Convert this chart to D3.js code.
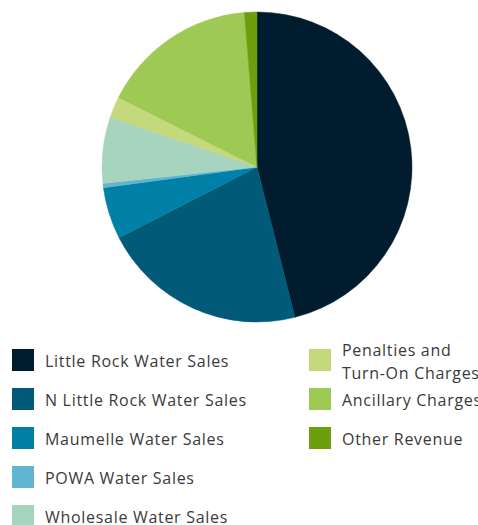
<!DOCTYPE html>
<html>
<head>
<meta charset="utf-8">
<script src="https://cdn.jsdelivr.net/npm/d3@7"></script>
<style>
  body { margin: 0; background: #fff; overflow: hidden; }
  text { font-family: "Open Sans", "Noto Sans", sans-serif; fill: #3a3a3a; letter-spacing: 0.7px; }
</style>
</head>
<body>
<div id="chart"></div>
<script>
// revenue categories and shares (%)
var categories = ["Little Rock Water Sales", "N Little Rock Water Sales", "Maumelle Water Sales",
  "POWA Water Sales", "Wholesale Water Sales", "Penalties and Turn-On Charges",
  "Ancillary Charges", "Other Revenue"];
var values = [46.1, 21.4, 5.4, 0.45, 6.9, 2.2, 16.3, 1.3];
var colors = ["#001c2e", "#005a78", "#0080a6", "#62b5d1", "#a6d4bf", "#c3d97c", "#9ec955", "#6c9e0e"];
// legend labels (split where the original wraps)
var legendLabels = [["Little Rock Water Sales"], ["N Little Rock Water Sales"], ["Maumelle Water Sales"],
  ["POWA Water Sales"], ["Wholesale Water Sales"], ["Penalties and", "Turn-On Charges"],
  ["Ancillary Charges"], ["Other Revenue"]];

var svgWidth = 478;
var svgHeight = 525;

var svg = d3.select("#chart")
  .append("svg")
  .attr("width", svgWidth)
  .attr("height", svgHeight);

var data = categories.map((c, i) => ({ name: c, value: values[i], color: colors[i], label: legendLabels[i] }));

var radius = 155;
var pieGroup = svg.append("g")
  .attr("transform", "translate(257, 167)");

var pie = d3.pie()
  .sort(null)
  .value(d => d.value);

var arc = d3.arc()
  .innerRadius(0)
  .outerRadius(radius);

pieGroup.selectAll("path")
  .data(pie(data))
  .enter()
  .append("path")
  .attr("d", arc)
  .attr("fill", d => d.data.color)
  .attr("stroke", d => d.data.color)
  .attr("stroke-width", 0.5);

// legend: two columns, first five on the left
var rowGap = 39;
var legend = svg.append("g");

var items = legend.selectAll("g")
  .data(data)
  .enter()
  .append("g")
  .attr("transform", (d, i) => {
    var col = i < 5 ? 0 : 1;
    var row = i < 5 ? i : i - 5;
    return `translate(${col === 0 ? 12 : 309}, ${349 + row * rowGap})`;
  });

items.append("rect")
  .attr("width", 22)
  .attr("height", 22)
  .attr("fill", d => d.color);

items.each(function(d) {
  var g = d3.select(this);
  if (d.label.length === 1) {
    g.append("text")
      .attr("x", 33)
      .attr("y", 18)
      .attr("font-size", 16)
      .text(d.label[0]);
  } else {
    d.label.forEach((t, j) => {
      g.append("text")
        .attr("x", 33)
        .attr("y", 7 + j * 23)
        .attr("font-size", 16)
        .text(t);
    });
  }
});
</script>
</body>
</html>
